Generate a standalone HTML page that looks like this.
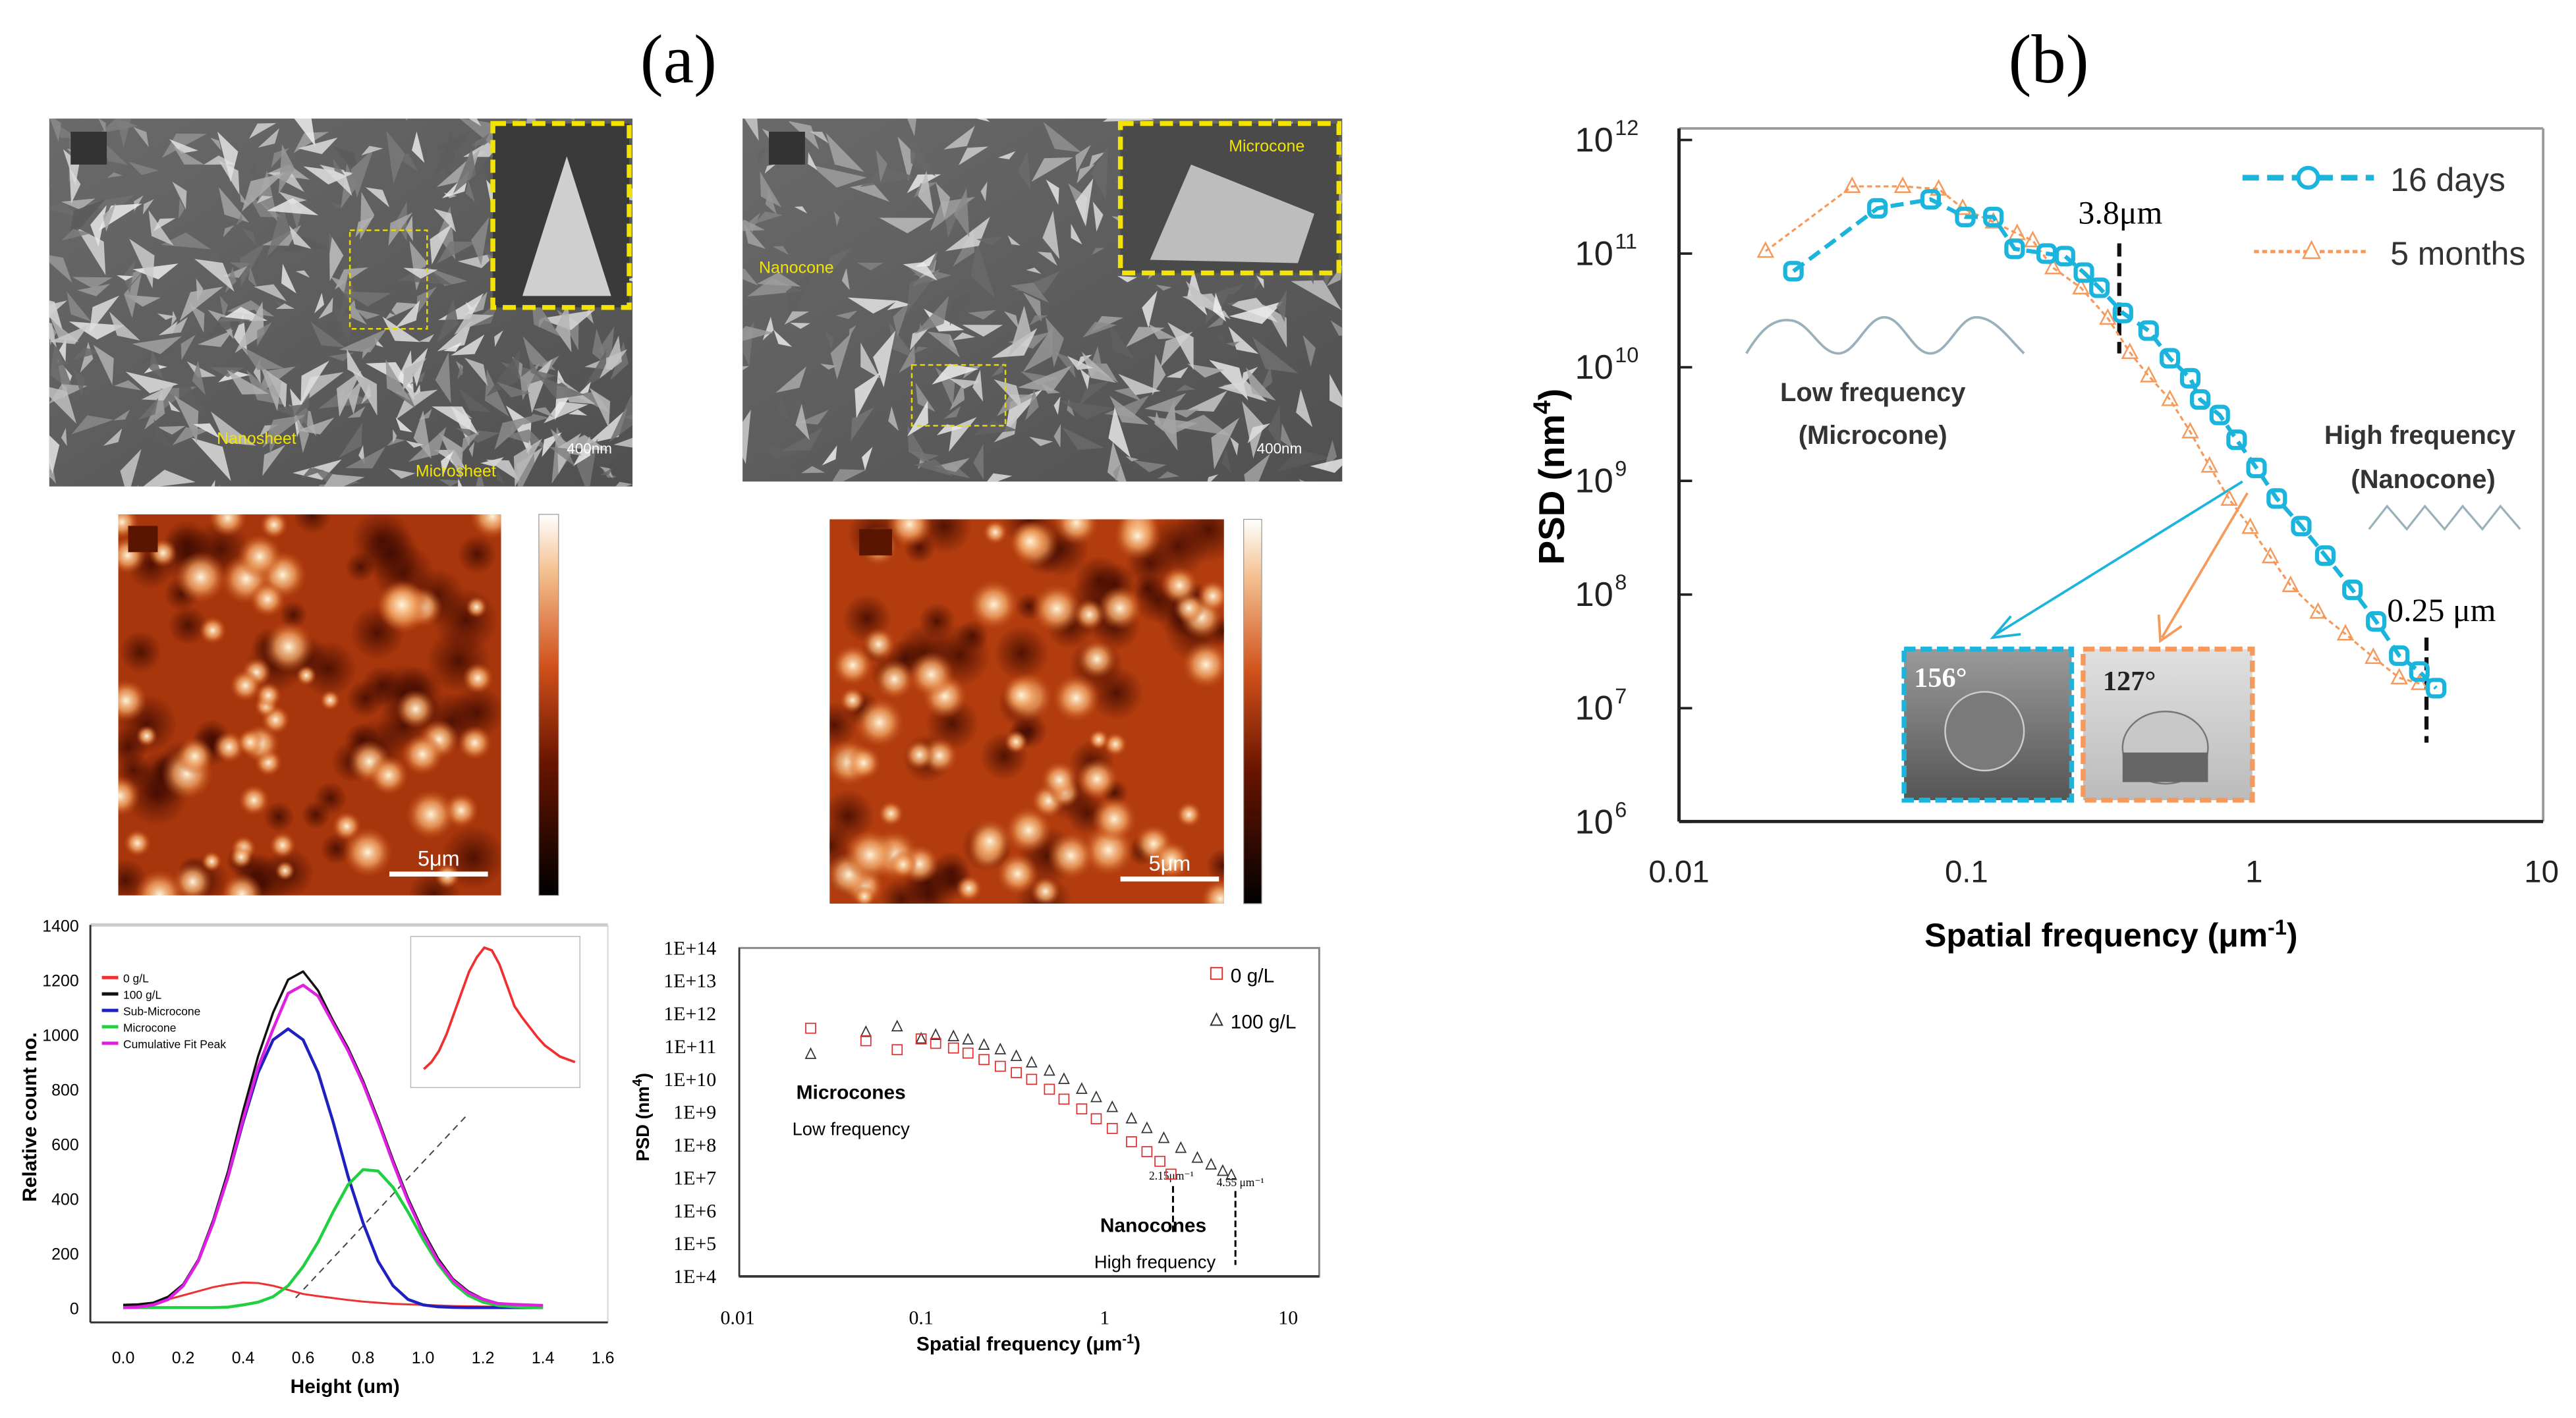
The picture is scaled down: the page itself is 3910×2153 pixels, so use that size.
<!DOCTYPE html>
<html><head><meta charset="utf-8"><style>
html,body{margin:0;padding:0;background:#fff;}
svg{display:block;}
.sans{font-family:"Liberation Sans",Arial,sans-serif;}
.serif{font-family:"Liberation Serif","Times New Roman",serif;}
</style></head><body>
<svg id="fig" width="3910" height="2153" viewBox="0 0 1568 863" xmlns="http://www.w3.org/2000/svg">
<defs>
<linearGradient id="cbar" x1="0" y1="1" x2="0" y2="0">
<stop offset="0" stop-color="#000"/><stop offset="0.35" stop-color="#6a1500"/><stop offset="0.6" stop-color="#d0501a"/><stop offset="0.85" stop-color="#f4c090"/><stop offset="1" stop-color="#fff"/></linearGradient>
<radialGradient id="blob"><stop offset="0" stop-color="#fff4d8"/><stop offset="0.5" stop-color="#f0a060" stop-opacity="0.8"/><stop offset="1" stop-color="#c04a10" stop-opacity="0"/></radialGradient>
<radialGradient id="darkb"><stop offset="0" stop-color="#3a0800" stop-opacity="0.8"/><stop offset="1" stop-color="#3a0800" stop-opacity="0"/></radialGradient>
<linearGradient id="semg" x1="0" y1="0" x2="1" y2="1"><stop offset="0" stop-color="#6a6a6a"/><stop offset="1" stop-color="#505050"/></linearGradient>
<linearGradient id="drop1" x1="0" y1="0" x2="0" y2="1"><stop offset="0" stop-color="#9a9a9a"/><stop offset="1" stop-color="#555"/></linearGradient>
<linearGradient id="drop2" x1="0" y1="0" x2="0" y2="1"><stop offset="0" stop-color="#e0e0e0"/><stop offset="1" stop-color="#bbb"/></linearGradient>
<clipPath id="clipSem1"><rect x="30" y="72" width="355" height="224"/></clipPath>
<clipPath id="clipSem2"><rect x="452" y="72" width="365" height="221"/></clipPath>
<clipPath id="clipAfm1"><rect x="72" y="313" width="233" height="232"/></clipPath>
<clipPath id="clipAfm2"><rect x="505" y="316" width="240" height="234"/></clipPath>
</defs>

<text x="413" y="50" font-size="42" text-anchor="middle" class="serif">(a)</text>
<text x="1247" y="50" font-size="42" text-anchor="middle" class="serif">(b)</text>

<!-- SEM images -->
<g id="sem1">
<rect x="30" y="72" width="355" height="224" fill="url(#semg)"/>
<g id="sem1tex" clip-path="url(#clipSem1)"></g>
<rect x="43" y="80" width="22" height="20" fill="#333"/>
<rect x="300" y="75" width="83" height="112" fill="#3a3a3a" stroke="#f2e400" stroke-width="3" stroke-dasharray="8,4"/>
<polygon points="318,180 345,95 372,180" fill="#cfcfcf"/>
<rect x="213" y="140" width="47" height="60" fill="none" stroke="#e8d800" stroke-width="1" stroke-dasharray="3,2"/>
<text x="132" y="270" font-size="10" fill="#f2e400" class="sans">Nanosheet</text>
<text x="253" y="290" font-size="10" fill="#f2e400" class="sans">Microsheet</text>
<text x="345" y="276" font-size="9" fill="#fff" class="sans">400nm</text>
</g>
<g id="sem2">
<rect x="452" y="72" width="365" height="221" fill="url(#semg)"/>
<g id="sem2tex" clip-path="url(#clipSem2)"></g>
<rect x="468" y="80" width="22" height="20" fill="#333"/>
<rect x="682" y="75" width="133" height="91" fill="#4a4a4a" stroke="#f2e400" stroke-width="3" stroke-dasharray="8,4"/>
<polygon points="700,158 725,100 800,130 790,160" fill="#bdbdbd"/>
<rect x="555" y="222" width="57" height="37" fill="none" stroke="#e8d800" stroke-width="1" stroke-dasharray="3,2"/>
<text x="748" y="92" font-size="10" fill="#f2e400" class="sans">Microcone</text>
<text x="462" y="166" font-size="10" fill="#f2e400" class="sans">Nanocone</text>
<text x="765" y="276" font-size="9" fill="#fff" class="sans">400nm</text>
</g>

<!-- AFM images -->
<g id="afm1">
<rect x="72" y="313" width="233" height="232" fill="#a8360c"/>
<g id="afm1tex" clip-path="url(#clipAfm1)"></g>
<rect x="78" y="320" width="18" height="16" fill="#5a1500"/>
<rect x="328" y="313" width="12" height="232" fill="url(#cbar)" stroke="#999" stroke-width="0.5"/>
<line x1="237" y1="532" x2="297" y2="532" stroke="#fff" stroke-width="3"/>
<text x="267" y="527" font-size="13" fill="#fff" text-anchor="middle" class="sans">5μm</text>
</g>
<g id="afm2">
<rect x="505" y="316" width="240" height="234" fill="#b23c0e"/>
<g id="afm2tex" clip-path="url(#clipAfm2)"></g>
<rect x="523" y="322" width="20" height="16" fill="#5a1500"/>
<rect x="757" y="316" width="11" height="234" fill="url(#cbar)" stroke="#999" stroke-width="0.5"/>
<line x1="682" y1="535" x2="742" y2="535" stroke="#fff" stroke-width="3"/>
<text x="712" y="530" font-size="13" fill="#fff" text-anchor="middle" class="sans">5μm</text>
</g>

<!-- Histogram chart -->
<g id="hist">
<line x1="55" y1="563" x2="370" y2="563" stroke="#ccc" stroke-width="2"/>
<line x1="370" y1="563" x2="370" y2="805" stroke="#ddd" stroke-width="1"/>
<line x1="55" y1="563" x2="55" y2="805" stroke="#333" stroke-width="1.2"/>
<line x1="55" y1="805" x2="370" y2="805" stroke="#333" stroke-width="1.2"/>
<text x="22" y="680" font-size="12" font-weight="bold" text-anchor="middle" transform="rotate(-90 22 680)" class="sans">Relative count no.</text>
<text x="210" y="848" font-size="12" font-weight="bold" text-anchor="middle" class="sans">Height (um)</text>
<rect x="250" y="570" width="103" height="92" fill="#fff" stroke="#bbb" stroke-width="0.6"/>
<line x1="180" y1="790" x2="285" y2="678" stroke="#444" stroke-width="0.8" stroke-dasharray="4,3"/>
</g>

<!-- left PSD chart -->
<g id="psdL">
<rect x="450" y="577" width="353" height="200" fill="none" stroke="#888" stroke-width="1.2"/>
<line x1="450" y1="577" x2="450" y2="777" stroke="#333" stroke-width="1"/>
<line x1="450" y1="777" x2="803" y2="777" stroke="#333" stroke-width="1.5"/>
<text x="395" y="680" font-size="11" font-weight="bold" text-anchor="middle" transform="rotate(-90 395 680)" class="sans">PSD (nm<tspan baseline-shift="super" font-size="8">4</tspan>)</text>
<text x="626" y="822" font-size="12" font-weight="bold" text-anchor="middle" class="sans">Spatial frequency (μm<tspan baseline-shift="super" font-size="8">-1</tspan>)</text>
<rect x="737" y="589" width="7" height="7" fill="none" stroke="#e03030" stroke-width="0.8"/>
<text x="749" y="598" font-size="12" class="sans">0 g/L</text>
<polygon points="740.5,617 737,624 744,624" fill="none" stroke="#333" stroke-width="0.8"/>
<text x="749" y="626" font-size="12" class="sans">100 g/L</text>
<text x="518" y="669" font-size="12" font-weight="bold" text-anchor="middle" class="sans">Microcones</text>
<text x="518" y="691" font-size="11" text-anchor="middle" class="sans">Low frequency</text>
<text x="702" y="750" font-size="12" font-weight="bold" text-anchor="middle" class="sans">Nanocones</text>
<text x="703" y="772" font-size="11" text-anchor="middle" class="sans">High frequency</text>
<text x="713" y="718" font-size="7" text-anchor="middle" class="serif">2.15μm⁻¹</text>
<text x="755" y="722" font-size="7" text-anchor="middle" class="serif">4.55 μm⁻¹</text>
<line x1="714" y1="722" x2="714" y2="752" stroke="#000" stroke-width="1.2" stroke-dasharray="4,2"/>
<line x1="752" y1="725" x2="752" y2="770" stroke="#000" stroke-width="1.2" stroke-dasharray="4,2"/>
</g>

<!-- right PSD chart -->
<g id="psdR">
<line x1="1022" y1="78" x2="1548" y2="78" stroke="#999" stroke-width="1.5"/>
<line x1="1548" y1="78" x2="1548" y2="500" stroke="#999" stroke-width="1.5"/>
<line x1="1022" y1="78" x2="1022" y2="500" stroke="#222" stroke-width="2"/>
<line x1="1022" y1="500" x2="1548" y2="500" stroke="#222" stroke-width="2"/>
<text x="952" y="290" font-size="22" font-weight="bold" text-anchor="middle" transform="rotate(-90 952 290)" class="sans">PSD (nm<tspan baseline-shift="super" font-size="15">4</tspan>)</text>
<text x="1285" y="576" font-size="20" font-weight="bold" text-anchor="middle" class="sans">Spatial frequency (μm<tspan baseline-shift="super" font-size="13">-1</tspan>)</text>
<path d="M1063,215 C1072,200 1080,193 1091,195 C1102,197 1108,215 1119,215 C1130,215 1136,193 1147,193 C1158,193 1164,215 1175,215 C1186,215 1192,193 1203,193 C1214,193 1222,205 1232,215" fill="none" stroke="#9ab0bb" stroke-width="1.5"/>
<text x="1140" y="244" font-size="16" font-weight="bold" fill="#333" text-anchor="middle" class="sans">Low frequency</text>
<text x="1140" y="270" font-size="16" font-weight="bold" fill="#333" text-anchor="middle" class="sans">(Microcone)</text>
<text x="1473" y="270" font-size="16" font-weight="bold" fill="#333" text-anchor="middle" class="sans">High frequency</text>
<text x="1475" y="297" font-size="16" font-weight="bold" fill="#333" text-anchor="middle" class="sans">(Nanocone)</text>
<path d="M1442,322 L1453,308 L1465,322 L1476,308 L1488,322 L1499,308 L1511,322 L1522,308 L1534,322" fill="none" stroke="#9ab0bb" stroke-width="1.3"/>
<text x="1265" y="136" font-size="20" class="serif">3.8μm</text>
<line x1="1290" y1="148" x2="1290" y2="215" stroke="#111" stroke-width="2.5" stroke-dasharray="8,4"/>
<text x="1453" y="378" font-size="20" class="serif">0.25 μm</text>
<line x1="1477" y1="388" x2="1477" y2="452" stroke="#111" stroke-width="2.5" stroke-dasharray="8,4"/>
<line x1="1365" y1="293" x2="1215" y2="386" stroke="#1ab4dc" stroke-width="1.5"/>
<polyline points="1224,375 1213,388 1230,386" fill="none" stroke="#1ab4dc" stroke-width="1.5"/>
<line x1="1368" y1="300" x2="1316" y2="388" stroke="#f59a5c" stroke-width="1.5"/>
<polyline points="1314,374 1315,390 1328,381" fill="none" stroke="#f59a5c" stroke-width="1.5"/>
<rect x="1159" y="395" width="102" height="92" fill="url(#drop1)" stroke="#1ab4dc" stroke-width="3" stroke-dasharray="7,3"/>
<circle cx="1208" cy="445" r="24" fill="#7a7a7a" stroke="#ccc" stroke-width="1"/>
<text x="1165" y="418" font-size="17" fill="#fff" font-weight="bold" class="serif">156°</text>
<rect x="1268" y="395" width="103" height="92" fill="url(#drop2)" stroke="#f59a5c" stroke-width="3" stroke-dasharray="7,3"/>
<ellipse cx="1318" cy="455" rx="26" ry="22" fill="#c8c8c8" stroke="#777" stroke-width="1"/>
<rect x="1292" y="458" width="52" height="18" fill="#666"/>
<text x="1280" y="420" font-size="17" fill="#222" font-weight="bold" class="serif">127°</text>
<line x1="1365" y1="108" x2="1445" y2="108" stroke="#1ab4dc" stroke-width="3.5" stroke-dasharray="10,5"/>
<circle cx="1405" cy="108" r="6" fill="#fff" stroke="#1ab4dc" stroke-width="2.5"/>
<text x="1455" y="116" font-size="20" fill="#333" class="sans">16 days</text>
<line x1="1372" y1="153" x2="1442" y2="153" stroke="#f59a5c" stroke-width="2" stroke-dasharray="3,2"/>
<polygon points="1407,147 1402,157 1412,157" fill="#fff" stroke="#f59a5c" stroke-width="1"/>
<text x="1455" y="161" font-size="20" fill="#333" class="sans">5 months</text>
</g>

<script>
// ===== data: right PSD chart =====
const freq16Days = [0.025,0.049,0.075,0.099,0.124,0.147,0.19,0.22,0.256,0.29,0.35,0.43,0.51,0.6,0.65,0.76,0.87,1.02,1.2,1.46,1.77,2.2,2.66,3.2,3.76,4.3];
const psd16Days = [7e10,2.5e11,3.0e11,2.1e11,2.1e11,1.1e11,1.0e11,9.5e10,6.8e10,5e10,3e10,2.1e10,1.2e10,8e9,5.2e9,3.8e9,2.3e9,1.3e9,7e8,4e8,2.2e8,1.1e8,5.8e7,2.9e7,2.1e7,1.5e7];
const freq5Months = [0.02,0.04,0.06,0.08,0.097,0.124,0.15,0.17,0.2,0.25,0.31,0.37,0.43,0.51,0.6,0.7,0.82,0.97,1.14,1.34,1.67,2.08,2.6,3.2,3.76];
const psd5Months = [1.05e11,3.9e11,3.9e11,3.7e11,2.5e11,1.9e11,1.5e11,1.3e11,7.5e10,5e10,2.7e10,1.35e10,8.4e9,5.2e9,2.7e9,1.35e9,6.9e8,3.9e8,2.15e8,1.2e8,7e7,4.5e7,2.8e7,1.85e7,1.65e7];
const rYTicks = [6,7,8,9,10,11,12];
const rXTicks = ["0.01","0.1","1","10"];
// ===== data: left PSD chart =====
const freq0gL = [0.025,0.05,0.074,0.1,0.12,0.15,0.18,0.22,0.27,0.33,0.4,0.5,0.6,0.75,0.9,1.1,1.4,1.7,2.0,2.3];
const psd0gL = [3.6e11,1.5e11,8e10,1.7e11,1.25e11,9e10,6.3e10,4e10,2.5e10,1.6e10,1e10,5e9,2.5e9,1.26e9,6.3e8,3.2e8,1.26e8,6.3e7,3.2e7,1.3e7];
const freq100gL = [0.025,0.05,0.074,0.1,0.12,0.15,0.18,0.22,0.27,0.33,0.4,0.5,0.6,0.75,0.9,1.1,1.4,1.7,2.1,2.6,3.2,3.8,4.4,4.9];
const psd100gL = [5.8e10,2.7e11,4e11,1.7e11,2.2e11,2e11,1.6e11,1.1e11,8e10,5e10,3.2e10,1.8e10,1e10,5e9,2.8e9,1.4e9,6.3e8,3.2e8,1.6e8,8e7,4e7,2.5e7,1.6e7,1.2e7];
const lYTicks = ["1E+4","1E+5","1E+6","1E+7","1E+8","1E+9","1E+10","1E+11","1E+12","1E+13","1E+14"];
const lXTicks = ["0.01","0.1","1","10"];
// ===== data: height histogram =====
const heights = [0,0.05,0.1,0.15,0.2,0.25,0.3,0.35,0.4,0.45,0.5,0.55,0.6,0.65,0.7,0.75,0.8,0.85,0.9,0.95,1.0,1.05,1.1,1.15,1.2,1.25,1.3,1.35,1.4];
const count0gL = [5,10,18,30,45,60,75,85,92,90,80,65,50,42,35,28,22,18,14,12,10,8,6,5,4,3,2,2,1];
const count100gL = [10,12,18,40,85,175,320,500,720,920,1080,1200,1230,1160,1050,950,830,690,540,400,280,180,105,60,32,16,12,10,8];
const subMicrocone = [0,2,10,30,80,170,310,480,680,860,980,1020,980,860,680,480,310,170,80,30,10,3,1,0,0,0,0,0,0];
const microcone = [0,0,0,0,0,0,0,2,10,20,40,80,150,240,350,450,505,500,440,350,250,160,90,45,20,8,3,1,0];
const cumulativeFit = [0,2,10,30,80,170,310,482,690,880,1020,1150,1180,1140,1040,940,820,680,530,390,270,170,100,55,30,15,12,10,8];
const histYTicks = [0,200,400,600,800,1000,1200,1400];
const histXTicks = ["0.0","0.2","0.4","0.6","0.8","1.0","1.2","1.4","1.6"];
const legendNames = ["0 g/L","100 g/L","Sub-Microcone","Microcone","Cumulative Fit Peak"];

const NS = "http://www.w3.org/2000/svg";
function mk(tag, attrs, parent) {
  const e = document.createElementNS(NS, tag);
  for (const k in attrs) e.setAttribute(k, attrs[k]);
  parent.appendChild(e);
  return e;
}
const lg = Math.log10;

// ---- right chart ----
const gR = document.getElementById("psdR");
const xR = f => 1022 + (lg(f) + 2) * 175;
const yR = v => 85 + (12 - lg(v)) * 69.2;
rYTicks.forEach(p => {
  const yy = yR(Math.pow(10,p));
  const t = mk("text", {x: 982, y: yy + 7, "font-size": 21, "text-anchor": "end", class: "sans", fill: "#222"}, gR);
  
  
  t.textContent = "10";
  const sup = mk("text", {x: 983, y: yy - 3, "font-size": 13, "text-anchor": "start", class: "sans", fill: "#222"}, gR);
  
  
  sup.textContent = String(p);
  const tk = mk("line", {x1: 1022, x2: 1030, y1: yy, y2: yy, stroke: "#222", "stroke-width": 1.5}, gR);
  
  
});
rXTicks.forEach(s => {
  const t = mk("text", {x: xR(parseFloat(s)), y: 537, "font-size": 19, "text-anchor": "middle", class: "sans", fill: "#222"}, gR);
  
  
  t.textContent = s;
});
const l5 = mk("polyline", {points: freq5Months.map((f,i) => xR(f)+","+yR(psd5Months[i])).join(" "), fill: "none", stroke: "#f59a5c", "stroke-width": 1.3, "stroke-dasharray": "3,2"}, gR);


freq5Months.forEach((f,i) => {
  const x = xR(f), y = yR(psd5Months[i]);
  const m = mk("polygon", {points: `${x},${y-5} ${x-4.5},${y+3.5} ${x+4.5},${y+3.5}`, fill: "none", stroke: "#f59a5c", "stroke-width": 1}, gR);
  
  
});
const l16 = mk("polyline", {points: freq16Days.map((f,i) => xR(f)+","+yR(psd16Days[i])).join(" "), fill: "none", stroke: "#1ab4dc", "stroke-width": 2.5, "stroke-dasharray": "8,4"}, gR);


freq16Days.forEach((f,i) => {
  const m = mk("rect", {x: xR(f)-5, y: yR(psd16Days[i])-5, width: 10, height: 10, rx: 3, fill: "none", stroke: "#1ab4dc", "stroke-width": 2.5}, gR);
  
  
});

// ---- left PSD chart ----
const gL = document.getElementById("psdL");
const xL = f => 449 + (lg(f) + 2) * 111.7;
const yL = v => 577 + (14 - lg(v)) * 20;
lYTicks.forEach((s,i) => {
  const t = mk("text", {x: 436, y: 777 - i*20 + 4, "font-size": 12, "text-anchor": "end", class: "serif"}, gL);
  
  
  t.textContent = s;
});
lXTicks.forEach(s => {
  const t = mk("text", {x: xL(parseFloat(s)), y: 806, "font-size": 12, "text-anchor": "middle", class: "serif"}, gL);
  
  
  t.textContent = s;
});
freq100gL.forEach((f,i) => {
  const x = xL(f), y = yL(psd100gL[i]);
  const m = mk("polygon", {points: `${x},${y-3.5} ${x-3},${y+2.5} ${x+3},${y+2.5}`, fill: "none", stroke: "#333", "stroke-width": 0.7}, gL);
  
  
});
freq0gL.forEach((f,i) => {
  const m = mk("rect", {x: xL(f)-3, y: yL(psd0gL[i])-3, width: 6, height: 6, fill: "none", stroke: "#e03030", "stroke-width": 0.7}, gL);
  
  
});

// ---- histogram ----
const gH = document.getElementById("hist");
const xH = h => 75 + h * 182.5;
const yH = c => 796 - c * 0.1664;
histYTicks.forEach(v => {
  const t = mk("text", {x: 48, y: yH(v) + 4, "font-size": 10, "text-anchor": "end", class: "sans"}, gH);
  
  
  t.textContent = v;
});
histXTicks.forEach(s => {
  const t = mk("text", {x: xH(parseFloat(s)), y: 830, "font-size": 10, "text-anchor": "middle", class: "sans"}, gH);
  
  
  t.textContent = s;
});
const hSeries = [[count0gL,"#f03030",1.2],[count100gL,"#111",1.4],[subMicrocone,"#2020c0",1.8],[microcone,"#20d040",1.8],[cumulativeFit,"#e020e0",1.8]];
hSeries.forEach((s,k) => {
  const p = mk("polyline", {points: heights.map((h,i) => xH(h)+","+yH(s[0][i])).join(" "), fill: "none", stroke: s[1], "stroke-width": s[2], "stroke-linejoin": "round"}, gH);
  
  
  const ll = mk("line", {x1: 62, x2: 72, y1: 595 + k*10, y2: 595 + k*10, stroke: s[1], "stroke-width": 2}, gH);
  
  
  const lt = mk("text", {x: 75, y: 598 + k*10, "font-size": 7, class: "sans"}, gH);
  
  
  lt.textContent = legendNames[k];
});
const xI = h => 258 + h * 92;
const yI = c => 655 - c * 0.85;
const ins = mk("polyline", {points: heights.filter(h => h <= 1.0).map((h,i) => xI(h)+","+yI(count0gL[i])).join(" "), fill: "none", stroke: "#f03030", "stroke-width": 1.5}, gH);



// ---- decorative textures (not chart data) ----
let seed = 7;
const rnd = () => { seed = (seed * 16807) % 2147483647; return seed / 2147483647; };
function semTex(id, x0, y0, w, h, n) {
  const g = document.getElementById(id);
  for (let i = 0; i < n; i++) {
    const x = x0 + rnd()*w, y = y0 + rnd()*h, s = 8 + rnd()*28, a = rnd()*6.28;
    const c = Math.floor(90 + rnd()*150);
    mk("polygon", {points: `${x},${y} ${x+Math.cos(a)*s},${y+Math.sin(a)*s} ${x+Math.cos(a+0.5)*s*0.6},${y+Math.sin(a+0.5)*s*0.6}`, fill: `rgb(${c},${c},${c})`, opacity: 0.85}, g);
  }
}
semTex("sem1tex", 30, 72, 355, 224, 420);
semTex("sem2tex", 452, 72, 365, 221, 300);
function afmTex(id, x0, y0, w, h, n) {
  const g = document.getElementById(id);
  for (let i = 0; i < n; i++) {
    mk("circle", {cx: x0 + rnd()*w, cy: y0 + rnd()*h, r: 8 + rnd()*12, fill: "url(#darkb)"}, g);
  }
  for (let i = 0; i < n; i++) {
    mk("circle", {cx: x0 + rnd()*w, cy: y0 + rnd()*h, r: 6 + rnd()*10, fill: "url(#blob)"}, g);
  }
}
afmTex("afm1tex", 72, 313, 233, 232, 55);
afmTex("afm2tex", 505, 316, 240, 234, 60);
</script>
</svg>
</body></html>
